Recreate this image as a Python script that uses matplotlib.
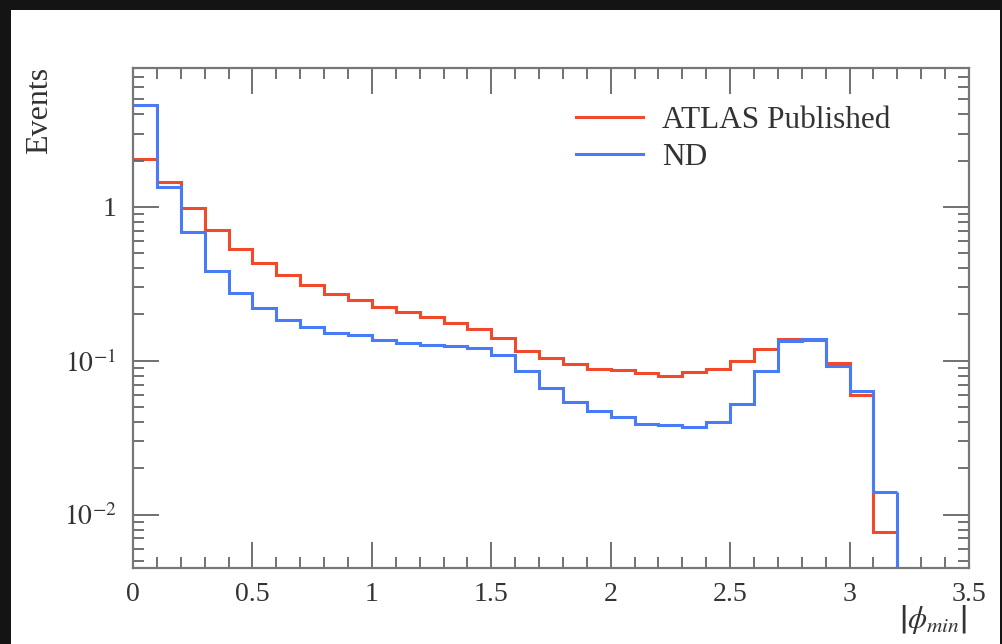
import numpy as np
import matplotlib
matplotlib.use('Agg')
import matplotlib.pyplot as plt
from matplotlib.ticker import LogLocator, FixedLocator, FixedFormatter, NullFormatter, MultipleLocator

plt.rcParams['font.family'] = ['Liberation Serif', 'DejaVu Serif']
plt.rcParams['mathtext.fontset'] = 'stix'

# bin edges of |phi_min| histogram
edges = np.round(np.arange(0, 3.21, 0.1), 2)

atlas = [2.04, 1.46, 0.99, 0.706, 0.535, 0.430, 0.361, 0.313, 0.272, 0.249,
         0.223, 0.209, 0.193, 0.176, 0.162, 0.141, 0.115, 0.104, 0.096, 0.088,
         0.0868, 0.083, 0.080, 0.084, 0.088, 0.0997, 0.119, 0.138, 0.137, 0.097,
         0.0598, 0.00776]
nd = [4.62, 1.35, 0.692, 0.385, 0.275, 0.221, 0.185, 0.166, 0.152, 0.148,
      0.137, 0.130, 0.127, 0.124, 0.122, 0.109, 0.086, 0.067, 0.0543, 0.0471,
      0.0429, 0.0387, 0.0381, 0.0373, 0.0398, 0.0523, 0.086, 0.134, 0.138, 0.092,
      0.0638, 0.0141]

labels = ['ATLAS Published', 'ND']
colors = ['#f0492b', '#4a7bf7']
xticks = [0, 0.5, 1, 1.5, 2, 2.5, 3, 3.5]
xticklabels = ['0', '0.5', '1', '1.5', '2', '2.5', '3', '3.5']
yticks = [0.01, 0.1, 1]
yticklabels = [r'$10^{-2}$', r'$10^{-1}$', '1']
ylim = (0.0045, 8.0)

fig = plt.figure(figsize=(10.02, 6.44), dpi=100, facecolor='#141414')
# white card on a dark frame
card = plt.Rectangle((11/1002, 0), 989/1002, 634/644, transform=fig.transFigure,
                     facecolor='white', edgecolor='none', zorder=-10)
fig.patches.append(card)

ax = fig.add_axes([133/1002, 1 - 568/644, 836/1002, 500/644])
ax.set_zorder(5)
ax.set_facecolor('white')

for vals, lab, col in zip([atlas, nd], labels, colors):
    ax.stairs(vals, edges, baseline=None, color=col, lw=2.2, label=lab)
    ax.vlines(edges[-1], ylim[0], vals[-1], color=col, lw=2.2)

ax.set_yscale('log')
ax.set_xlim(0, 3.5)
ax.set_ylim(*ylim)

ax.xaxis.set_major_locator(FixedLocator(xticks))
ax.xaxis.set_major_formatter(FixedFormatter(xticklabels))
ax.xaxis.set_minor_locator(MultipleLocator(0.1))

ax.yaxis.set_major_locator(FixedLocator(yticks))
ax.yaxis.set_major_formatter(FixedFormatter(yticklabels))
ax.yaxis.set_minor_locator(LogLocator(base=10, subs=np.arange(2, 10)))
ax.yaxis.set_minor_formatter(NullFormatter())

ax.tick_params(which='both', direction='in', top=True, right=True,
               color='#666666', width=1.3, labelsize=20, labelcolor='#333333')
ax.tick_params(which='major', length=19)
ax.tick_params(which='minor', length=8)
ax.tick_params(axis='x', pad=10)
ax.tick_params(axis='y', pad=12)
for sp in ax.spines.values():
    sp.set_color('#777777')
    sp.set_linewidth(1.6)

fig.text(40/1002, 1 - 67/644, 'Events', rotation=90, ha='center', va='top',
         fontsize=23, color='#333333', zorder=6)
fig.text(967/1002, 1 - 603/644, r'$\left|\phi_{min}\right|$', ha='right', va='top',
         fontsize=22, color='#333333', zorder=6)

leg = ax.legend(loc='upper left', bbox_to_anchor=(576/1002, 1 - 106/644),
                bbox_transform=fig.transFigure, frameon=False, fontsize=22.5,
                handlelength=2.15, handletextpad=0.6, labelspacing=0.25,
                borderpad=0, borderaxespad=0)
for t in leg.get_texts():
    t.set_color('#333333')

fig.savefig('out.png', dpi=100, facecolor=fig.get_facecolor())
